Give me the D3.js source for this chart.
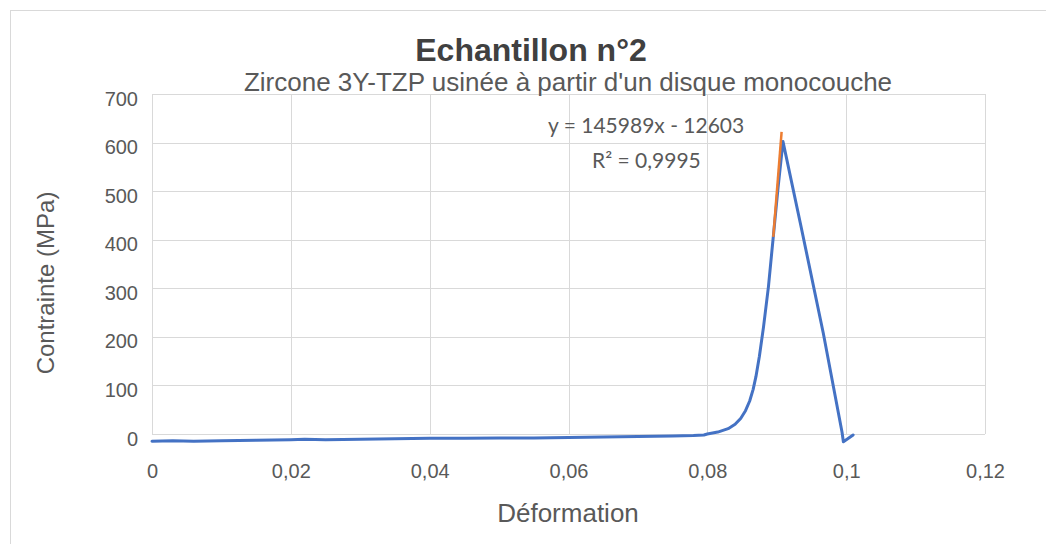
<!DOCTYPE html>
<html>
<head>
<meta charset="utf-8">
<script src="https://cdn.jsdelivr.net/npm/d3@7"></script>
<style>
  body { margin: 0; background: #fff; }
  text { font-family: "Liberation Sans", Arial, sans-serif; }
</style>
</head>
<body>
<svg width="1046" height="544"></svg>
<script>
// stress-strain curve
var strain = [0, 0.003, 0.006, 0.010, 0.015, 0.020, 0.022, 0.025, 0.030, 0.035, 0.040,
  0.045, 0.050, 0.055, 0.060, 0.065, 0.070, 0.075, 0.078, 0.0795, 0.0800, 0.0815, 0.0830,
  0.0840, 0.0848, 0.0855, 0.0861, 0.0866, 0.0870, 0.0875, 0.0881, 0.0888, 0.0895, 0.0902,
  0.0909, 0.0934, 0.0967, 0.0994, 0.0996, 0.1010];
var stress = [-15, -14, -15, -14, -13, -12, -11, -12, -11, -10, -9,
  -9, -8, -8, -7, -6, -5, -4, -3, -2, 0, 4, 11,
  20, 32, 48, 68, 92, 118, 160, 221, 303, 406, 509,
  602, 434, 208, 4, -16, -2];

// linear trendline segment (orange)
var trendStrain = [0.0895, 0.0907];
var trendStress = [406, 622];

var xTicks = [0, 0.02, 0.04, 0.06, 0.08, 0.1, 0.12];
var yTicks = [0, 100, 200, 300, 400, 500, 600, 700];

var title = "Echantillon n°2",
  subtitle = "Zircone 3Y-TZP usinée à partir d'un disque monocouche",
  xLabel = "Déformation",
  yLabel = "Contrainte  (MPa)",
  eqText = "y = 145989x - 12603",
  r2Text = "R² = 0,9995";

var svg = d3.select("svg"),
  margin = {top: 94, right: 61, bottom: 110, left: 152},
  width = svg.attr("width") - margin.left - margin.right,
  height = svg.attr("height") - margin.top - margin.bottom;

// outer chart frame
svg.append("rect")
  .attr("x", 10.5).attr("y", 10.5)
  .attr("width", 1100).attr("height", 600)
  .attr("fill", "none")
  .attr("stroke", "#d9d9d9");

var g = svg.append("g").attr("transform", "translate(" + margin.left + "," + margin.top + ")");

var x = d3.scaleLinear().domain([0, 0.12]).range([0, width]),
  y = d3.scaleLinear().domain([0, 700]).range([height, 0]);

var fmt = function(d) { return String(d).replace(".", ","); };

// grid
g.append("g").selectAll("line")
  .data(yTicks)
  .enter().append("line")
  .attr("x1", 0).attr("x2", width)
  .attr("y1", function(d) { return Math.round(y(d)) + 0.5; })
  .attr("y2", function(d) { return Math.round(y(d)) + 0.5; })
  .attr("stroke", "#d9d9d9");

g.append("g").selectAll("line")
  .data(xTicks)
  .enter().append("line")
  .attr("y1", 0).attr("y2", height)
  .attr("x1", function(d) { return Math.round(x(d)) + 0.5; })
  .attr("x2", function(d) { return Math.round(x(d)) + 0.5; })
  .attr("stroke", "#d9d9d9");

// axes (labels only)
var xAxis = g.append("g")
  .attr("transform", "translate(0," + height + ")")
  .call(d3.axisBottom(x).tickValues(xTicks).tickFormat(fmt).tickSize(0).tickPadding(30));
var yAxis = g.append("g")
  .call(d3.axisLeft(y).tickValues(yTicks).tickFormat(fmt).tickSize(0).tickPadding(14));

[xAxis, yAxis].forEach(function(a) {
  a.select(".domain").remove();
  a.selectAll("text")
    .style("font-size", "20px")
    .style("font-family", "Liberation Sans, Arial, sans-serif")
    .attr("fill", "#595959");
});
yAxis.selectAll("text").attr("dy", "0.55em");

// data line
var line = d3.line()
  .x(function(d) { return x(d[0]); })
  .y(function(d) { return y(d[1]); });

g.append("path")
  .datum(d3.zip(strain, stress))
  .attr("d", line)
  .attr("fill", "none")
  .attr("stroke", "#4472c4")
  .attr("stroke-width", 3)
  .attr("stroke-linejoin", "round")
  .attr("stroke-linecap", "round");

g.append("path")
  .datum(d3.zip(trendStrain, trendStress))
  .attr("d", line)
  .attr("fill", "none")
  .attr("stroke", "#ed7d31")
  .attr("stroke-width", 2.5);

// trendline label
svg.append("text")
  .attr("x", 548).attr("y", 133)
  .style("font-family", "Lato, sans-serif")
  .style("font-size", "21px")
  .attr("fill", "#595959")
  .text(eqText);
svg.append("text")
  .attr("x", 592).attr("y", 168)
  .style("font-family", "Lato, sans-serif")
  .style("font-size", "21px")
  .attr("fill", "#595959")
  .text(r2Text);

// titles
svg.append("text")
  .attr("x", 531).attr("y", 61)
  .attr("text-anchor", "middle")
  .style("font-size", "32px")
  .style("font-weight", "bold")
  .attr("fill", "#404040")
  .text(title);

svg.append("text")
  .attr("x", 568).attr("y", 91)
  .attr("text-anchor", "middle")
  .style("font-size", "26px")
  .attr("fill", "#595959")
  .text(subtitle);

svg.append("text")
  .attr("x", 568).attr("y", 522)
  .attr("text-anchor", "middle")
  .style("font-size", "26px")
  .attr("fill", "#595959")
  .text(xLabel);

svg.append("text")
  .attr("transform", "translate(54,283) rotate(-90)")
  .attr("text-anchor", "middle")
  .style("font-size", "24px")
  .attr("fill", "#595959")
  .text(yLabel);
</script>
</body>
</html>
